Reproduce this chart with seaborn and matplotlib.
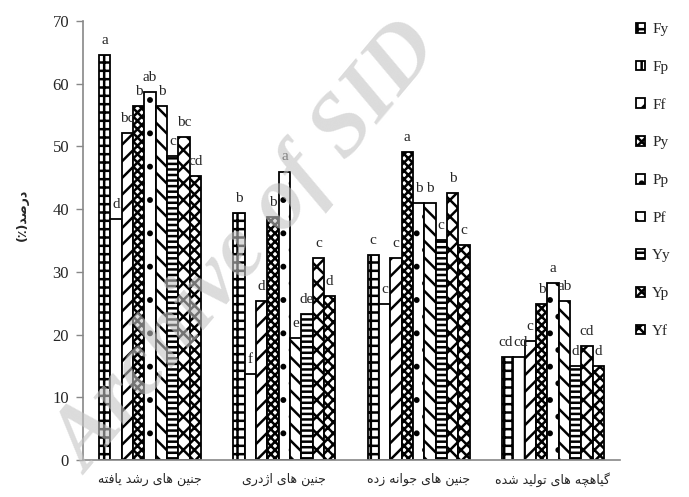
import matplotlib
matplotlib.use("Agg")
import matplotlib.pyplot as plt
import numpy as np
import pandas as pd
import seaborn as sns

# data
stages = ["جنین های رشد یافته", "جنین های اژدری", "جنین های جوانه زده", "گیاهچه های تولید شده"]
treatments = ["Fy", "Fp", "Ff", "Py", "Pp", "Pf", "Yy", "Yp", "Yf"]

grown = [64.6, 38.4, 52.1, 56.5, 58.7, 56.5, 48.5, 51.5, 45.3]
torpedo = [39.4, 13.7, 25.4, 38.8, 46.0, 19.4, 23.3, 32.2, 26.2]
germinated = [32.7, 24.9, 32.2, 49.1, 41.0, 41.0, 35.1, 42.6, 34.3]
plantlets = [16.4, 16.4, 19.0, 24.8, 28.2, 25.4, 15.0, 18.1, 15.0]

grown_letters = ["a", "d", "bc", "b", "ab", "b", "c", "bc", "cd"]
torpedo_letters = ["b", "f", "d", "b", "a", "e", "de", "c", "d"]
germinated_letters = ["c", "c", "c", "a", "b", "b", "c", "b", "c"]
plantlet_letters = ["cd", "cd", "c", "b", "a", "ab", "d", "cd", "d"]

ylabel = "درصد(٪)"

hatches = ["++", "|", "//", "xxxx", ".", "\\\\", "---", "xx", "xxx"]

# simple persian shaping (matplotlib does no arabic shaping / bidi)
FORMS = {
    "ا": ("\uFE8D", "\uFE8E", None, None),
    "ت": ("\uFE95", "\uFE96", "\uFE97", "\uFE98"),
    "ج": ("\uFE9D", "\uFE9E", "\uFE9F", "\uFEA0"),
    "چ": ("\uFB7A", "\uFB7B", "\uFB7C", "\uFB7D"),
    "د": ("\uFEA9", "\uFEAA", None, None),
    "ر": ("\uFEAD", "\uFEAE", None, None),
    "ز": ("\uFEAF", "\uFEB0", None, None),
    "ژ": ("\uFB8A", "\uFB8B", None, None),
    "ش": ("\uFEB5", "\uFEB6", "\uFEB7", "\uFEB8"),
    "ص": ("\uFEB9", "\uFEBA", "\uFEBB", "\uFEBC"),
    "ف": ("\uFED1", "\uFED2", "\uFED3", "\uFED4"),
    "گ": ("\uFB92", "\uFB93", "\uFB94", "\uFB95"),
    "ل": ("\uFEDD", "\uFEDE", "\uFEDF", "\uFEE0"),
    "ن": ("\uFEE5", "\uFEE6", "\uFEE7", "\uFEE8"),
    "ه": ("\uFEE9", "\uFEEA", "\uFEEB", "\uFEEC"),
    "و": ("\uFEED", "\uFEEE", None, None),
    "ی": ("\uFBFC", "\uFBFD", "\uFBFE", "\uFBFF"),
}


def shape(s):
    out = []
    for i, c in enumerate(s):
        if c not in FORMS:
            out.append(c)
            continue
        prev = s[i - 1] if i > 0 else ""
        nxt = s[i + 1] if i + 1 < len(s) else ""
        jp = prev in FORMS and FORMS[prev][2] is not None
        jn = FORMS[c][2] is not None and nxt in FORMS
        iso, fin, ini, med = FORMS[c]
        out.append(med if (jp and jn) else fin if jp else ini if jn else iso)
    vis = "".join(reversed(out))
    return vis.translate(str.maketrans("()", ")("))


df = pd.DataFrame({
    "stage": np.repeat(stages, len(treatments)),
    "treat": treatments * len(stages),
    "value": grown + torpedo + germinated + plantlets,
})
letters = [grown_letters, torpedo_letters, germinated_letters, plantlet_letters]

sns.set_style("ticks")
plt.rcParams["font.family"] = ["Liberation Serif", "DejaVu Sans"]
plt.rcParams["hatch.linewidth"] = 1.8

fig = plt.figure(figsize=(6.89, 4.97), dpi=100)
ax = fig.add_axes([83 / 689, 37 / 497, (620 - 83) / 689, (460 - 21) / 497])

sns.barplot(
    data=df, x="stage", y="value", hue="treat",
    order=stages, hue_order=treatments,
    palette=["white"] * len(treatments), saturation=1,
    width=0.76, edgecolor="black", linewidth=1.3,
    errorbar=None, legend=False, ax=ax,
)

labels_by_group = [[] for _ in stages]
for i, cont in enumerate(ax.containers):
    for j, bar in enumerate(cont):
        bar.set_hatch(hatches[i])
        h = bar.get_height()
        t = ax.text(bar.get_x() + bar.get_width() / 2, h + 1.3, letters[j][i],
                    ha="center", va="bottom", fontsize=11)
        labels_by_group[j].append((t, h))

ax.set_ylim(0, 70)
ax.set_yticks(range(0, 71, 10))
ax.set_xlabel("")
ax.set_ylabel("")
ax.set_xticks(range(len(stages)))
ax.set_xticklabels([shape(s) for s in stages], family=["DejaVu Sans"], fontsize=9)
ax.tick_params(axis="x", length=0, pad=9)
ax.tick_params(axis="y", length=5, width=1, color="#888888", labelsize=12, pad=5)
sns.despine(ax=ax)
for side in ["left", "bottom"]:
    ax.spines[side].set_color("#888888")
    ax.spines[side].set_linewidth(1.2)

# push apart neighbouring letters at the same height (e.g. "cd cd")
fig.canvas.draw()
r = fig.canvas.get_renderer()
for group in labels_by_group:
    for (t1, h1), (t2, h2) in zip(group[:-1], group[1:]):
        if abs(h1 - h2) < 2:
            b1, b2 = t1.get_window_extent(r), t2.get_window_extent(r)
            ov = b1.x1 - b2.x0
            if ov > 0:
                for t, sgn in ((t1, -1), (t2, 1)):
                    x, y = t.get_position()
                    px = ax.transData.transform((x, y))
                    px[0] += sgn * (ov / 2 + 0.5)
                    t.set_position(ax.transData.inverted().transform(px))

fig.text(22 / 689, 1 - 215 / 497, shape(ylabel), rotation=90, ha="center", va="center",
         family=["DejaVu Sans"], fontsize=9, fontweight="bold")

fig.legend(list(ax.containers), treatments, loc="upper left",
           bbox_to_anchor=(630 / 689, 1 - 17 / 497), frameon=False,
           handlelength=0.6, handleheight=0.6, handletextpad=0.45,
           labelspacing=1.6, fontsize=11, borderaxespad=0)

# watermark present in the source image
fig.text(0.36, 0.5, "Archive of SID", rotation=50, ha="center", va="center",
         fontsize=64, color="#c4c4c4", alpha=0.6, fontstyle="italic",
         fontweight="bold", family=["Liberation Serif"], zorder=10)

fig.savefig("out.png", dpi=100)
